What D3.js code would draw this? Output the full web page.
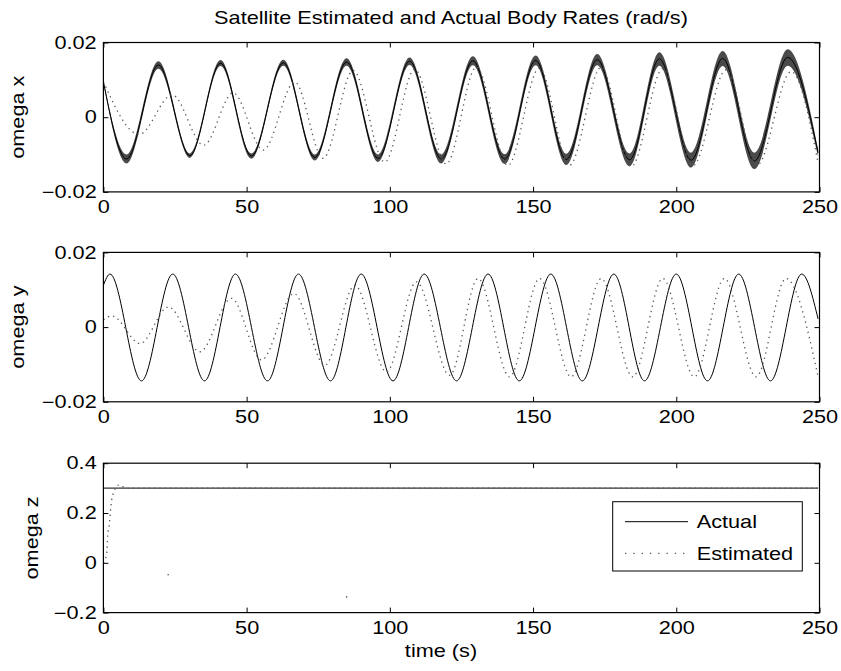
<!DOCTYPE html>
<html>
<head>
<meta charset="utf-8">
<script src="https://cdn.jsdelivr.net/npm/d3@7"></script>
<style>
	body { margin: 0; background: #fff; }
	text { font-family: "Liberation Sans", Arial, sans-serif; fill: #000; }
</style>
</head>
<body>
<div id="chart"></div>
<script>
// values
var timeTicks = [0, 50, 100, 150, 200, 250];
var rateTicks = [-0.02, 0, 0.02];
var zTicks = [-0.2, 0, 0.2, 0.4];

var omegaXActualT = [0, 8.1, 19.2, 30.2, 40.9, 51.7, 62.8, 73.8, 84.9, 95.9, 106.9, 118.0, 129.0, 140.1, 150.9, 161.6, 172.4, 183.7, 194.1, 205.2, 216.2, 227.3, 238.9, 249.5];
var omegaXActualV = [0.0095, -0.0112, 0.0140, -0.0103, 0.0145, -0.0104, 0.0146, -0.0108, 0.0148, -0.0110, 0.0150, -0.0112, 0.0151, -0.0112, 0.0152, -0.0113, 0.0154, -0.0114, 0.0156, -0.0115, 0.0157, -0.0117, 0.0160, -0.0095];
// half-width of the noisy band on the actual omega x trace
var omegaXNoise = [0.0003, 0.0012, 0.0010, 0.0006, 0.0008, 0.0007, 0.0008, 0.0008, 0.0010, 0.0010, 0.0010, 0.0012, 0.0012, 0.0013, 0.0013, 0.0015, 0.0015, 0.0017, 0.0018, 0.0020, 0.0020, 0.0022, 0.0022, 0.0010];
var omegaXEstT = [0, 12.5, 24.0, 35.0, 45.3, 55.8, 66.8, 76.7, 87.2, 98.2, 108.7, 119.7, 130.2, 141.2, 152.2, 162.7, 173.8, 184.3, 195.3, 205.8, 217.4, 228.2, 240.1, 249.5];
var omegaXEstV = [0.0095, -0.0046, 0.0060, -0.0075, 0.0065, -0.0088, 0.0094, -0.0110, 0.0125, -0.0120, 0.0128, -0.0125, 0.0134, -0.0129, 0.0132, -0.0129, 0.0134, -0.0132, 0.0130, -0.0130, 0.0127, -0.0128, 0.0122, -0.0122];

var omegaYActualT = [0, 2.3, 13.3, 24.2, 35.3, 46.1, 57.3, 68.1, 79.3, 90.0, 101.1, 112.0, 123.3, 134.3, 145.2, 156.2, 167.2, 178.2, 188.9, 200.0, 210.9, 221.8, 232.9, 243.8, 249.5];
var omegaYActualV = [0.0112, 0.0142, -0.0144, 0.0142, -0.0144, 0.0142, -0.0144, 0.0142, -0.0144, 0.0142, -0.0144, 0.0142, -0.0144, 0.0142, -0.0144, 0.0142, -0.0144, 0.0142, -0.0144, 0.0142, -0.0144, 0.0142, -0.0144, 0.0142, 0.0022];
var omegaYEstT = [0, 3.0, 12.8, 22.7, 33.7, 44.7, 55.2, 66.5, 77.3, 87.8, 98.8, 109.3, 120.9, 130.8, 141.8, 152.3, 163.3, 173.8, 184.8, 195.3, 206.3, 216.8, 227.9, 238.3, 249.5];
var omegaYEstV = [0.0020, 0.0030, -0.0044, 0.0054, -0.0066, 0.0077, -0.0088, 0.0090, -0.0102, 0.0112, -0.0120, 0.0121, -0.0129, 0.0130, -0.0133, 0.0130, -0.0133, 0.0130, -0.0133, 0.0130, -0.0133, 0.0130, -0.0133, 0.0130, -0.0133];

var omegaZActualT = [0, 249.5];
var omegaZActualV = [0.30, 0.30];
var omegaZEstT = [0, 1.15, 1.5, 2.0, 2.65, 3.1, 5.4, 8.0, 249.5];
var omegaZEstV = [0, 0.036, 0.11, 0.15, 0.23, 0.265, 0.312, 0.30, 0.30];
var omegaZStrayT = [22.6, 84.9];
var omegaZStrayV = [-0.048, -0.137];

var seriesNames = ["Actual", "Estimated"];

chartDraw();

function chartDraw() {
	var width = 841,
		height = 671,
		plotLeft = 103.4,
		plotRight = 819.5,
		plotH = 149.4,
		stretch = 1.24,
		fontSize = 17.5;

	var svg = d3.select("#chart").append("svg")
		.attr("width", width)
		.attr("height", height)
		.style("font-size", fontSize + "px");

	var x = d3.scaleLinear()
		.domain([0, 250])
		.range([plotLeft, plotRight]);

	// text in the figure is wider than Arial at the same height
	function label(sel, str, px, py, anchor, rotate) {
		return sel.append("text")
			.attr("transform", "translate(" + px + "," + py + ")" + (rotate ? " rotate(-90)" : "") + " scale(" + stretch + ",1)")
			.attr("text-anchor", anchor)
			.text(str);
	}

	var defs = svg.append("defs");

	function panel(top, domain, ticks, fmt, ylab, ylabX, id) {
		var y = d3.scaleLinear()
			.domain(domain)
			.range([top + plotH, top]);

		defs.append("clipPath").attr("id", id)
			.append("rect")
			.attr("x", plotLeft).attr("y", top)
			.attr("width", plotRight - plotLeft).attr("height", plotH);

		var g = svg.append("g");
		var inner = g.append("g").attr("clip-path", "url(#" + id + ")");

		g.append("g")
			.attr("transform", "translate(0," + (top + plotH) + ")")
			.call(d3.axisBottom(x).tickValues(timeTicks).tickSize(-5).tickSizeOuter(0).tickPadding(9).tickFormat(d3.format("d")))
			.call(function(a) { a.select(".domain").remove(); })
			.attr("font-size", null).attr("font-family", null)
			.selectAll("text").attr("transform", "scale(" + stretch + ",1)");

		g.append("g")
			.attr("transform", "translate(0," + top + ")")
			.call(d3.axisTop(x).tickValues(timeTicks).tickSize(-5).tickSizeOuter(0).tickFormat(""))
			.call(function(a) { a.select(".domain").remove(); });

		g.append("g")
			.attr("transform", "translate(" + plotLeft + ",0)")
			.call(d3.axisLeft(y).tickValues(ticks).tickSize(-5).tickSizeOuter(0).tickPadding(0).tickFormat(fmt))
			.call(function(a) { a.select(".domain").remove(); })
			.attr("font-size", null).attr("font-family", null)
			.selectAll("text")
			.attr("x", 0)
			.attr("transform", "translate(-6.7,0) scale(" + stretch + ",1)");

		g.append("g")
			.attr("transform", "translate(" + plotRight + ",0)")
			.call(d3.axisRight(y).tickValues(ticks).tickSize(-5).tickSizeOuter(0).tickFormat(""))
			.call(function(a) { a.select(".domain").remove(); });

		g.append("rect")
			.attr("x", plotLeft).attr("y", top)
			.attr("width", plotRight - plotLeft).attr("height", plotH)
			.attr("fill", "none")
			.attr("stroke", "#000")
			.attr("stroke-width", 1.2);

		label(g, ylab, ylabX, top + plotH / 2, "middle", true);

		return { y: y, inner: inner };
	}

	function fmtRate(d) { return d === 0 ? "0" : d3.format(".2f")(d); }
	function fmtZ(d) { return d === 0 ? "0" : d3.format(".1f")(d); }

	function drawLine(p, T, V, dotted) {
		var line = d3.line()
			.x(function(d) { return x(d[0]); })
			.y(function(d) { return p.y(d[1]); })
			.curve(d3.curveMonotoneX);
		p.inner.append("path")
			.datum(d3.zip(T, V))
			.attr("fill", "none")
			.attr("stroke", dotted ? "#555" : "#000")
			.attr("stroke-width", dotted ? 1.3 : 1)
			.attr("stroke-dasharray", dotted ? "1.3,4" : null)
			.attr("d", line);
	}

	// omega x
	var px = panel(42.5, [-0.02, 0.02], rateTicks, fmtRate, "omega x", 24.3, "clipX");
	var band = d3.area()
		.x(function(d) { return x(d[0]); })
		.y0(function(d) { return px.y(d[1] - d[2]); })
		.y1(function(d) { return px.y(d[1] + d[2]); })
		.curve(d3.curveMonotoneX);
	px.inner.append("path")
		.datum(d3.zip(omegaXActualT, omegaXActualV, omegaXNoise))
		.attr("fill", "#4a4a4a")
		.attr("d", band);
	drawLine(px, omegaXActualT, omegaXActualV, false);
	drawLine(px, omegaXEstT, omegaXEstV, true);

	// omega y
	var py = panel(252.4, [-0.02, 0.02], rateTicks, fmtRate, "omega y", 24.3, "clipY");
	drawLine(py, omegaYActualT, omegaYActualV, false);
	drawLine(py, omegaYEstT, omegaYEstV, true);

	// omega z
	var pz = panel(463.2, [-0.2, 0.4], zTicks, fmtZ, "omega z", 37.8, "clipZ");
	drawLine(pz, omegaZActualT, omegaZActualV, false);
	drawLine(pz, omegaZEstT, omegaZEstV, true);
	pz.inner.selectAll(".stray")
		.data(d3.zip(omegaZStrayT, omegaZStrayV))
		.enter().append("circle")
		.attr("class", "stray")
		.attr("cx", function(d) { return x(d[0]); })
		.attr("cy", function(d) { return pz.y(d[1]); })
		.attr("r", 0.8)
		.attr("fill", "#555");

	// legend
	var leg = svg.append("g");
	leg.append("rect")
		.attr("x", 612.7).attr("y", 501.7)
		.attr("width", 189.6).attr("height", 69.3)
		.attr("fill", "#fff")
		.attr("stroke", "#000")
		.attr("stroke-width", 1);
	var legY = [521.7, 553.3];
	seriesNames.forEach(function(name, i) {
		leg.append("line")
			.attr("x1", 625).attr("x2", 688)
			.attr("y1", legY[i]).attr("y2", legY[i])
			.attr("stroke", i ? "#555" : "#000")
			.attr("stroke-width", i ? 1.3 : 1)
			.attr("stroke-dasharray", i ? "1.3,7" : null);
		label(leg, name, 696.7, legY[i] + 6.2, "start", false);
	});

	label(svg, "Satellite Estimated and Actual Body Rates (rad/s)", 451, 24, "middle", false);
	label(svg, "time (s)", 441, 657, "middle", false);
}
</script>
</body>
</html>
